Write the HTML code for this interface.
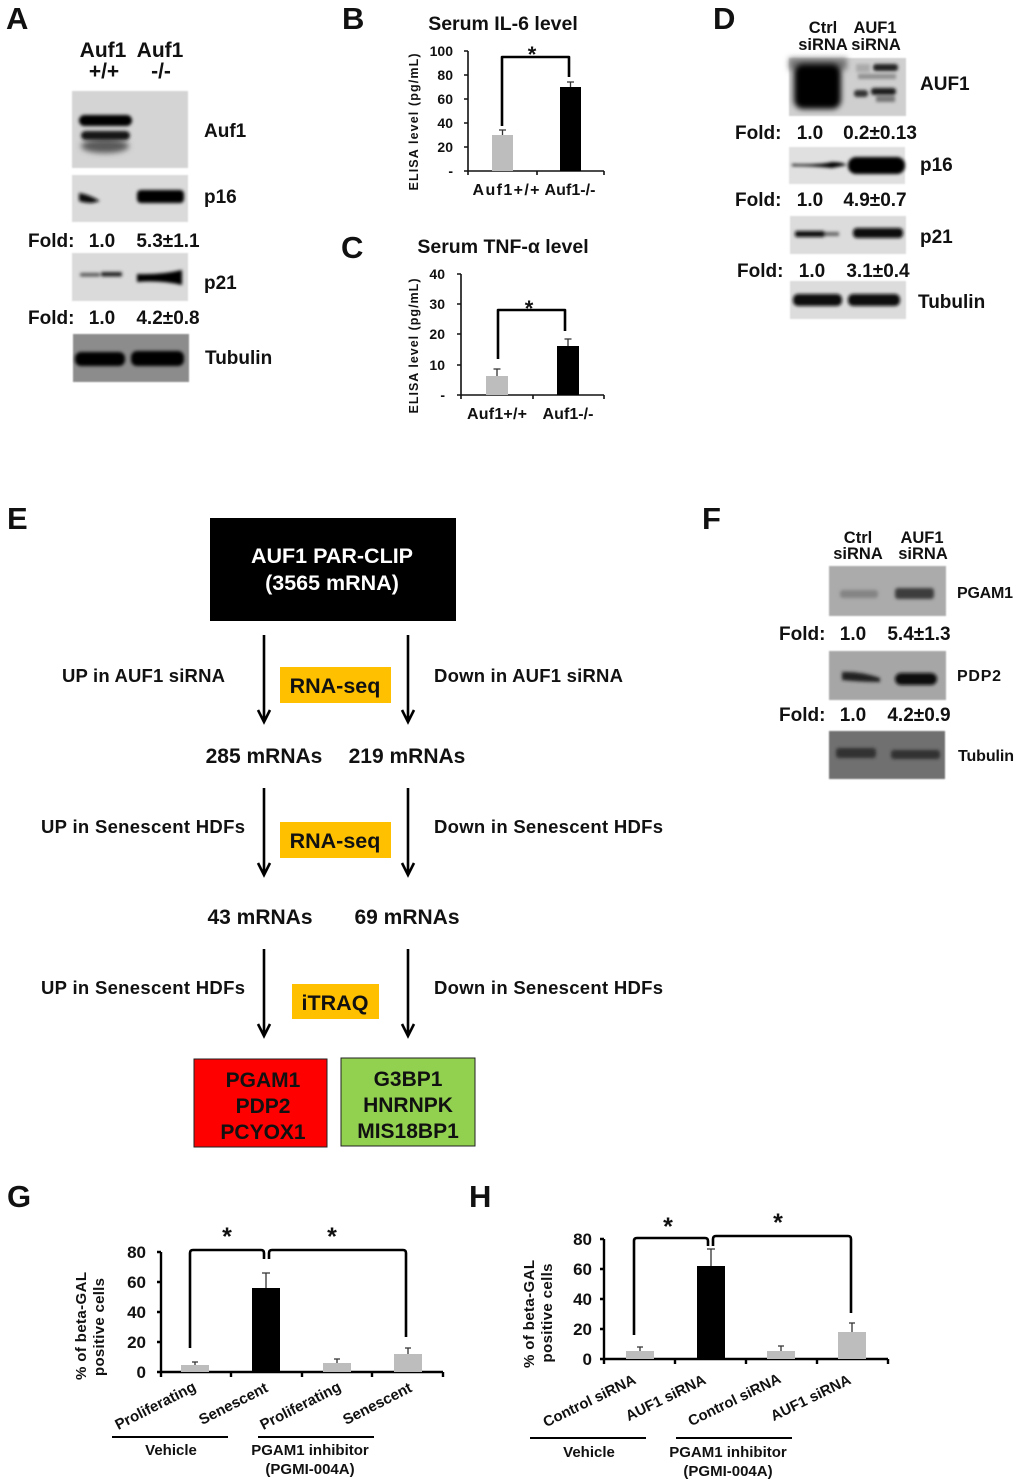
<!DOCTYPE html>
<html><head><meta charset="utf-8"><style>
html,body{margin:0;padding:0;background:#fff}
svg{display:block}
text{font-family:"Liberation Sans",sans-serif;font-weight:bold;fill:#111}
.L{font-size:31px;fill:#111}
.m{text-anchor:middle}.e{text-anchor:end}
.f19{font-size:19px}.f20{font-size:20px}.f21{font-size:21px}.f18{font-size:19.5px}
.s{font-size:16.5px}.t{font-size:14px}.x{font-size:16px}
.br{fill:none;stroke:#000;stroke-width:2.6;stroke-linejoin:round}
.ax{fill:none;stroke:#111;stroke-width:1.6}
.ax2{fill:none;stroke:#000;stroke-width:2.4}
.err{fill:none;stroke:#333;stroke-width:1.3}
.arr{fill:none;stroke:#000;stroke-width:2.6}
.lab{font-size:18.5px}
</style></head><body>
<svg width="1020" height="1484" viewBox="0 0 1020 1484" xmlns="http://www.w3.org/2000/svg">
<defs>
<filter id="b1" x="-30%" y="-100%" width="160%" height="300%"><feGaussianBlur stdDeviation="1.5"/></filter>
<filter id="b2" x="-30%" y="-80%" width="160%" height="260%"><feGaussianBlur stdDeviation="2.8"/></filter>
<filter id="b3" x="-5%" y="-5%" width="110%" height="110%"><feGaussianBlur stdDeviation="0.8"/></filter>
</defs>
<rect width="1020" height="1484" fill="#fff"/>

<!-- A -->
<text class="L" x="6" y="29">A</text>
<text class="f21 m" x="103" y="57">Auf1</text><text class="f21 m" x="160" y="57">Auf1</text>
<text class="f21 m" x="104" y="78">+/+</text><text class="f21 m" x="161" y="78">-/-</text>
<rect x="72" y="91" width="116" height="77" fill="#d4d4d4" filter="url(#b3)"/>
<ellipse cx="105" cy="146" rx="24" ry="7" fill="#5a5a5a" filter="url(#b2)"/>
<g filter="url(#b1)"><rect x="79" y="115" width="53" height="11" rx="5.500" fill="#050505"/><rect x="81" y="131" width="49" height="9" rx="4.500" fill="#161616"/></g>
<rect x="72" y="175" width="116" height="47" fill="#dadada" filter="url(#b3)"/>
<g filter="url(#b1)"><path d="M79 193Q88 194 100 201L92 203Q84 203 79 201Z" fill="#111"/><rect x="137" y="190" width="47" height="13" rx="4" fill="#000"/></g>
<text class="f19" x="28" y="247">Fold:</text><text class="f19 m" x="102" y="247">1.0</text><text class="f19 m" x="168" y="247">5.3±1.1</text>
<rect x="72" y="253" width="116" height="48" fill="#dadada" filter="url(#b3)"/>
<g filter="url(#b1)"><rect x="80" y="273" width="20" height="3.500" rx="1.500" fill="#555"/><rect x="101" y="272" width="21" height="4.500" rx="1.500" fill="#222"/><path d="M137 274Q160 275 182 270V285Q160 280 137 282Z" fill="#000"/></g>
<text class="f19" x="28" y="324">Fold:</text><text class="f19 m" x="102" y="324">1.0</text><text class="f19 m" x="168" y="324">4.2±0.8</text>
<rect x="73" y="334" width="116" height="48" fill="#8c8c8c" filter="url(#b3)"/>
<g filter="url(#b1)"><rect x="75" y="352" width="50" height="14" rx="6" fill="#050505"/><rect x="131" y="351" width="53" height="15" rx="6" fill="#050505"/></g>
<text class="f19" x="204" y="137">Auf1</text><text class="f19" x="204" y="203">p16</text><text class="f19" x="204" y="289">p21</text><text class="f19" x="205" y="364">Tubulin</text>

<!-- B -->
<text class="L" x="342" y="29">B</text>
<text class="f18 m" x="503" y="30">Serum IL-6 level</text>
<path class="ax" d="M468 51V171H604M464 51H468M464 75H468M464 99H468M464 123H468M464 147H468M464 171H468M468 171V175M537 171V175M604 171V175"/>
<g class="t"><text class="t e" x="453" y="56">100</text><text class="t e" x="453" y="80">80</text><text class="t e" x="453" y="104">60</text><text class="t e" x="453" y="128">40</text><text class="t e" x="453" y="152">20</text><text class="t e" x="453" y="176">-</text></g>
<rect x="492" y="135" width="21" height="36" fill="#bdbdbd"/><rect x="560" y="87" width="21" height="84" fill="#000"/>
<path class="err" d="M502.500 135V130M499 130H506M570.500 87V82M567 82H574"/>
<path class="br" d="M502 126V57H569V77"/>
<text font-size="22" class="m" x="532" y="62">*</text>
<text class="x m" x="506" y="195" textLength="67">Auf1+/+</text><text class="x m" x="570" y="195" textLength="51">Auf1-/-</text>
<text font-size="12.500" class="m" transform="translate(418 122) rotate(-90)" textLength="137">ELISA level (pg/mL)</text>

<!-- C -->
<text class="L" x="341" y="258">C</text>
<text class="f18 m" x="503" y="253">Serum TNF-α level</text>
<path class="ax" d="M461 274V395H604M457 274H461M457 304H461M457 334H461M457 365H461M457 395H461M461 395V399M533 395V399M604 395V399"/>
<text class="t e" x="445" y="279">40</text><text class="t e" x="445" y="309">30</text><text class="t e" x="445" y="339">20</text><text class="t e" x="445" y="370">10</text><text class="t e" x="445" y="400">-</text>
<rect x="486" y="376" width="22" height="19" fill="#bdbdbd"/><rect x="557" y="346" width="22" height="49" fill="#000"/>
<path class="err" d="M497 376V369M493.500 369H500.500M568 346V339M564.500 339H571.500"/>
<path class="br" d="M498 359V310H565V331"/>
<text font-size="22" class="m" x="529" y="316">*</text>
<text class="x m" x="497" y="419" textLength="60">Auf1+/+</text><text class="x m" x="568" y="419" textLength="51">Auf1-/-</text>
<text font-size="12.500" class="m" transform="translate(418 346) rotate(-90)" textLength="135">ELISA level (pg/mL)</text>

<!-- D -->
<text class="L" x="713" y="29">D</text>
<text class="s m" x="823" y="33">Ctrl</text><text class="s m" x="823" y="50">siRNA</text><text class="s m" x="875" y="33">AUF1</text><text class="s m" x="876" y="50">siRNA</text>
<rect x="789" y="58" width="117" height="58" fill="#cfcfcf" filter="url(#b3)"/>
<rect x="789" y="58" width="58" height="12" fill="#777" filter="url(#b2)"/>
<rect x="794" y="64" width="47" height="45" rx="9" fill="#000" filter="url(#b2)"/>
<g filter="url(#b1)"><rect x="873" y="64" width="25" height="7" rx="3" fill="#222"/><rect x="856" y="64" width="14" height="8" fill="#aaa"/><rect x="858" y="74" width="38" height="5" fill="#8f8f8f"/><rect x="871" y="88" width="25" height="7" rx="3" fill="#1c1c1c"/><rect x="854" y="90" width="14" height="7" rx="3" fill="#333"/><rect x="876" y="96" width="19" height="6" fill="#777"/></g>
<text class="f19" x="735" y="139">Fold:</text><text class="f19 m" x="810" y="139">1.0</text><text class="f19 m" x="880" y="139">0.2±0.13</text>
<rect x="789" y="147" width="116" height="37" fill="#e0e0e0" filter="url(#b3)"/>
<g filter="url(#b1)"><path d="M792 164Q820 165 832 162Q842 162 847 165L832 168Q815 166 792 166Z" fill="#000"/><rect x="848" y="157" width="57" height="17" rx="8" fill="#000"/></g>
<text class="f19" x="735" y="206">Fold:</text><text class="f19 m" x="810" y="206">1.0</text><text class="f19 m" x="875" y="206">4.9±0.7</text>
<rect x="790" y="216" width="116" height="38" fill="#dcdcdc" filter="url(#b3)"/>
<g filter="url(#b1)"><rect x="795" y="231" width="30" height="6" rx="2" fill="#111"/><rect x="825" y="232" width="14" height="4" fill="#666"/><rect x="853" y="228" width="50" height="10" rx="4" fill="#0a0a0a"/></g>
<text class="f19" x="737" y="277">Fold:</text><text class="f19 m" x="812" y="277">1.0</text><text class="f19 m" x="878" y="277">3.1±0.4</text>
<rect x="790" y="281" width="116" height="38" fill="#dcdcdc" filter="url(#b3)"/>
<g filter="url(#b1)"><rect x="793" y="294" width="49" height="12" rx="5" fill="#0a0a0a"/><rect x="848" y="294" width="52" height="12" rx="5" fill="#0a0a0a"/></g>
<text class="f19" x="920" y="90">AUF1</text><text class="f19" x="920" y="171">p16</text><text class="f19" x="920" y="243">p21</text><text class="f19" x="918" y="308">Tubulin</text>

<!-- E -->
<text class="L" x="7" y="529">E</text>
<rect x="210" y="518" width="246" height="103" fill="#000"/>
<text font-size="21.500" class="m" x="332" y="563" style="fill:#fff">AUF1 PAR-CLIP</text><text font-size="21.500" class="m" x="332" y="590" style="fill:#fff">(3565 mRNA)</text>
<path class="arr" d="M264 635V722M258 710L264 722L270 710M408 635V722M402 710L408 722L414 710"/>
<path class="arr" d="M264 788V875M258 863L264 875L270 863M408 788V875M402 863L408 875L414 863"/>
<path class="arr" d="M264 949V1036M258 1024L264 1036L270 1024M408 949V1036M402 1024L408 1036L414 1024"/>
<rect x="280" y="667" width="111" height="36" fill="#ffc000"/><text font-size="21.500" class="m" x="335" y="693">RNA-seq</text>
<rect x="280" y="822" width="111" height="36" fill="#ffc000"/><text font-size="21.500" class="m" x="335" y="848">RNA-seq</text>
<rect x="292" y="984" width="87" height="35" fill="#ffc000"/><text font-size="21.500" class="m" x="335" y="1010">iTRAQ</text>
<text class="lab" x="62" y="682" textLength="163">UP in AUF1 siRNA</text><text class="lab" x="434" y="682" textLength="189">Down in AUF1 siRNA</text>
<text class="f21 m" x="264" y="763">285 mRNAs</text><text class="f21 m" x="407" y="763">219 mRNAs</text>
<text class="lab" x="41" y="833" textLength="204">UP in Senescent HDFs</text><text class="lab" x="434" y="833" textLength="229">Down in Senescent HDFs</text>
<text class="f21 m" x="260" y="924">43 mRNAs</text><text class="f21 m" x="407" y="924">69 mRNAs</text>
<text class="lab" x="41" y="994" textLength="204">UP in Senescent HDFs</text><text class="lab" x="434" y="994" textLength="229">Down in Senescent HDFs</text>
<rect x="194" y="1059" width="133" height="88" fill="#ff0000" stroke="#222" stroke-width="1"/>
<text class="f21 m" x="263" y="1087">PGAM1</text><text class="f21 m" x="263" y="1113">PDP2</text><text class="f21 m" x="263" y="1139">PCYOX1</text>
<rect x="341" y="1058" width="134" height="88" fill="#92d050" stroke="#222" stroke-width="1"/>
<text class="f21 m" x="408" y="1086">G3BP1</text><text class="f21 m" x="408" y="1112">HNRNPK</text><text class="f21 m" x="408" y="1138">MIS18BP1</text>

<!-- F -->
<text class="L" x="702" y="529">F</text>
<text class="s m" x="858" y="543">Ctrl</text><text class="s m" x="858" y="559">siRNA</text><text class="s m" x="922" y="543">AUF1</text><text class="s m" x="923" y="559">siRNA</text>
<rect x="829" y="566" width="117" height="50" fill="#ababab" filter="url(#b3)"/>
<g filter="url(#b1)"><rect x="840" y="590" width="38" height="8" rx="3" fill="#848484"/><rect x="895" y="588" width="39" height="11" rx="3" fill="#3c3c3c"/></g>
<text class="f19" x="779" y="640">Fold:</text><text class="f19 m" x="853" y="640">1.0</text><text class="f19 m" x="919" y="640">5.4±1.3</text>
<rect x="829" y="651" width="117" height="49" fill="#a6a6a6" filter="url(#b3)"/>
<g filter="url(#b1)"><path d="M842 672Q860 671 880 678V682Q860 682 842 680Z" fill="#222"/><rect x="895" y="673" width="42" height="12" rx="6" fill="#111"/></g>
<text class="f19" x="779" y="721">Fold:</text><text class="f19 m" x="853" y="721">1.0</text><text class="f19 m" x="919" y="721">4.2±0.9</text>
<rect x="829" y="731" width="116" height="48" fill="#707070" filter="url(#b3)"/>
<g filter="url(#b1)"><rect x="836" y="748" width="40" height="10" rx="3" fill="#333"/><rect x="891" y="750" width="49" height="9" rx="3" fill="#333"/></g>
<text class="x" x="957" y="598" textLength="56">PGAM1</text><text class="x" x="957" y="681" textLength="44">PDP2</text><text class="x" x="958" y="761" textLength="56">Tubulin</text>

<!-- G -->
<text class="L" x="7" y="1207">G</text>
<path class="ax2" d="M161 1252V1372H443M157 1252H161M157 1282H161M157 1312H161M157 1342H161M157 1372H161M161 1372V1377M231 1372V1377M302 1372V1377M372 1372V1377M443 1372V1377"/>
<g font-size="17"><text class="e" x="146" y="1258">80</text><text class="e" x="146" y="1288">60</text><text class="e" x="146" y="1318">40</text><text class="e" x="146" y="1348">20</text><text class="e" x="146" y="1378">0</text></g>
<rect x="181" y="1365" width="28" height="7" fill="#bdbdbd"/><rect x="252" y="1288" width="28" height="84" fill="#000"/><rect x="323" y="1363" width="28" height="9" fill="#bdbdbd"/><rect x="394" y="1354" width="28" height="18" fill="#bdbdbd"/>
<path class="err" d="M195 1365V1362M192 1362H198M266 1288V1273M262 1273H270M337 1363V1359M334 1359H340M408 1354V1348M405 1348H411"/>
<path class="br" d="M190 1348V1253Q190 1250 193 1250H261Q264 1250 264 1253V1259M269 1259V1253Q269 1250 272 1250H403Q406 1250 406 1253V1337"/>
<text font-size="25" class="m" x="227" y="1245">*</text><text font-size="25" class="m" x="332" y="1245">*</text>
<g font-size="15"><text class="m" transform="translate(86 1326) rotate(-90)" textLength="108">% of beta-GAL</text><text class="m" transform="translate(104 1327) rotate(-90)" textLength="98">positive cells</text></g>
<g font-size="15"><text class="e" transform="translate(197 1390) rotate(-27)">Proliferating</text><text class="e" transform="translate(269 1391) rotate(-27)">Senescent</text><text class="e" transform="translate(342 1390) rotate(-27)">Proliferating</text><text class="e" transform="translate(413 1391) rotate(-27)">Senescent</text></g>
<path d="M112 1437H228M258 1437H374" stroke="#000" stroke-width="2" fill="none"/>
<g font-size="15"><text class="m" x="171" y="1455">Vehicle</text><text class="m" x="310" y="1455">PGAM1 inhibitor</text><text class="m" x="310" y="1474">(PGMI-004A)</text></g>

<!-- H -->
<text class="L" x="469" y="1207">H</text>
<path class="ax2" d="M604 1239V1359H888M600 1239H604M600 1269H604M600 1299H604M600 1329H604M600 1359H604M604 1359V1364M675 1359V1364M746 1359V1364M817 1359V1364M888 1359V1364"/>
<g font-size="17"><text class="e" x="592" y="1245">80</text><text class="e" x="592" y="1275">60</text><text class="e" x="592" y="1305">40</text><text class="e" x="592" y="1335">20</text><text class="e" x="592" y="1365">0</text></g>
<rect x="626" y="1351" width="28" height="8" fill="#bdbdbd"/><rect x="697" y="1266" width="28" height="93" fill="#000"/><rect x="767" y="1351" width="28" height="8" fill="#bdbdbd"/><rect x="838" y="1332" width="28" height="27" fill="#bdbdbd"/>
<path class="err" d="M640 1351V1347M637 1347H643M711 1266V1249M707 1249H715M781 1351V1346M778 1346H784M852 1332V1323M849 1323H855"/>
<path class="br" d="M634 1335V1241Q634 1238 637 1238H705Q708 1238 708 1241V1246M713 1246V1239Q713 1236 716 1236H848Q851 1236 851 1239V1313"/>
<text font-size="25" class="m" x="668" y="1235">*</text><text font-size="25" class="m" x="778" y="1231">*</text>
<g font-size="15"><text class="m" transform="translate(534 1314) rotate(-90)" textLength="108">% of beta-GAL</text><text class="m" transform="translate(552 1313) rotate(-90)" textLength="99">positive cells</text></g>
<g font-size="14.800"><text class="e" transform="translate(637 1383) rotate(-26)">Control siRNA</text><text class="e" transform="translate(707 1383) rotate(-26)">AUF1 siRNA</text><text class="e" transform="translate(782 1382) rotate(-26)">Control siRNA</text><text class="e" transform="translate(852 1383) rotate(-26)">AUF1 siRNA</text></g>
<path d="M530 1438H646M676 1438H792" stroke="#000" stroke-width="2" fill="none"/>
<g font-size="15"><text class="m" x="589" y="1457">Vehicle</text><text class="m" x="728" y="1457">PGAM1 inhibitor</text><text class="m" x="728" y="1476">(PGMI-004A)</text></g>
</svg>
</body></html>
